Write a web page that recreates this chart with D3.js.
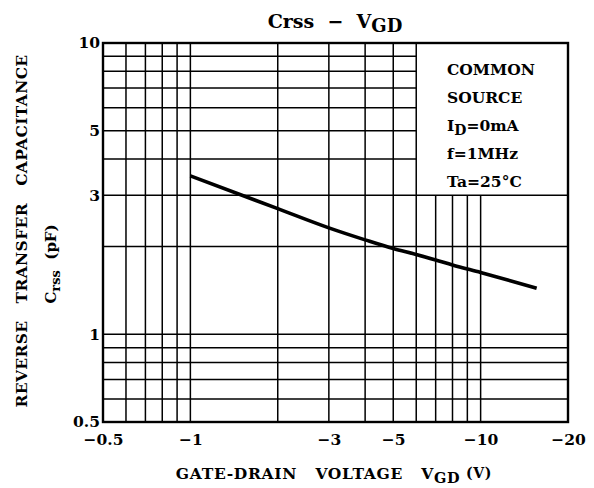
<!DOCTYPE html>
<html>
<head>
<meta charset="utf-8">
<script src="https://cdn.jsdelivr.net/npm/d3@7"></script>
<style>
  body { margin: 0; background: #fff; }
  svg { display: block; }
  text { font-family: "DejaVu Serif", serif; font-weight: bold; fill: #000; white-space: pre; }
</style>
</head>
<body>
<div id="chart"></div>
<script>
'use strict';

// Crss vs VGD
var vgd = [-1, -2, -3, -4, -5, -6, -7, -8, -10, -15.6];
var crss = [3.5, 2.7, 2.32, 2.11, 1.97, 1.88, 1.8, 1.73, 1.63, 1.44];

var xTicks = [-0.5, -1, -3, -5, -10, -20];
var yTicks = [0.5, 1, 3, 5, 10];
var xGrid = [-0.6, -0.7, -0.8, -0.9, -1, -2, -3, -4, -5, -6, -7, -8, -9, -10];
var yGrid = [0.6, 0.7, 0.8, 0.9, 1, 2, 3, 4, 5, 6, 7, 8, 9];
var legendLines = ['COMMON', 'SOURCE', 'I|D|=0mA', 'f=1MHz', 'Ta=25°C'];

var W = 594, H = 488;
var plotL = 103, plotR = 568, plotT = 43, plotB = 422;

var svg = d3.select('#chart').append('svg')
	.attr('width', W)
	.attr('height', H);

var x = d3.scaleLog().domain([0.5, 20]).range([plotL, plotR]);
var y = d3.scaleLog().domain([0.5, 10]).range([plotB, plotT]);
function fx(v) { return x(Math.abs(v)); }

// legend box corner: -6 V / 3 pF
var boxX = fx(-6), boxY = y(3);

// grid, lines hidden under the legend box are shortened
var grid = svg.append('g').attr('stroke', '#000').attr('stroke-width', 1.5);
grid.selectAll('line.v').data(xGrid).enter().append('line')
	.attr('class', 'v')
	.attr('x1', fx).attr('x2', fx)
	.attr('y1', function(d) { return fx(d) > boxX + 1 ? boxY : plotT; })
	.attr('y2', plotB);
grid.selectAll('line.h').data(yGrid).enter().append('line')
	.attr('class', 'h')
	.attr('y1', y).attr('y2', y)
	.attr('x1', plotL)
	.attr('x2', function(d) { return y(d) < boxY - 1 ? boxX : plotR; });

// frame
svg.append('rect')
	.attr('x', plotL).attr('y', plotT)
	.attr('width', plotR - plotL).attr('height', plotB - plotT)
	.attr('fill', 'none').attr('stroke', '#000').attr('stroke-width', 2.4);

// curve
var line = d3.line()
	.x(function(d) { return fx(d[0]); })
	.y(function(d) { return y(d[1]); })
	.curve(d3.curveMonotoneX);
svg.append('path')
	.datum(d3.zip(vgd, crss))
	.attr('d', line)
	.attr('fill', 'none').attr('stroke', '#000').attr('stroke-width', 3.6);

// axes (labels only, grid drawn above)
var xAxis = d3.axisBottom(x)
	.tickValues(xTicks.map(Math.abs))
	.tickSize(0).tickPadding(0)
	.tickFormat(function(d) { return '\u2212' + d; });
var gx = svg.append('g').attr('transform', 'translate(0,' + (plotB + 12) + ')').call(xAxis);
gx.select('.domain').remove();
gx.selectAll('text').attr('font-size', 15.5).attr('fill', '#000');
gx.attr('font-family', null).attr('font-size', null);

var yAxis = d3.axisLeft(y)
	.tickValues(yTicks)
	.tickSize(0).tickPadding(0)
	.tickFormat(function(d) { return String(d); });
var gy = svg.append('g').attr('transform', 'translate(' + (plotL - 3) + ',0)').call(yAxis);
gy.select('.domain').remove();
gy.selectAll('text').attr('font-size', 15.5).attr('fill', '#000');
gy.attr('font-family', null).attr('font-size', null);

// legend text
var lg = svg.append('g').attr('transform', 'translate(447,0)');
legendLines.forEach(function(s, i) {
	var t = lg.append('text').attr('y', 75 + i * 28).attr('font-size', 15.5);
	var parts = s.split('|');
	t.append('tspan').text(parts[0]);
	if (parts.length > 1) {
		t.append('tspan').attr('dy', 4).attr('font-size', 14).text(parts[1]);
		t.append('tspan').attr('dy', -4).text(parts[2]);
	}
});

// title
var title = svg.append('text').attr('x', 335).attr('y', 28)
	.attr('text-anchor', 'middle').attr('font-size', 19);
title.append('tspan').text('Crss  \u2212  V');
title.append('tspan').attr('dy', 4).attr('font-size', 18).text('GD');

// x title
var xt = svg.append('text').attr('x', 334).attr('y', 479)
	.attr('text-anchor', 'middle').attr('font-size', 15.5)
	.attr('letter-spacing', 0.7);
xt.append('tspan').text('GATE-DRAIN   VOLTAGE   V');
xt.append('tspan').attr('dy', 4).attr('font-size', 14.5).text('GD');
xt.append('tspan').attr('dy', -5).attr('font-size', 14).text(' (V)');

// y titles
svg.append('text')
	.attr('transform', 'translate(27,231) rotate(-90)')
	.attr('text-anchor', 'middle').attr('font-size', 15.5)
	.attr('letter-spacing', 0.35)
	.text('REVERSE   TRANSFER   CAPACITANCE');
var yt = svg.append('text')
	.attr('transform', 'translate(56,264) rotate(-90)')
	.attr('text-anchor', 'middle').attr('font-size', 15);
yt.append('tspan').text('C');
yt.append('tspan').attr('dy', 4).attr('font-size', 13).text('rss');
yt.append('tspan').attr('dy', -4).text('  (pF)');
</script>
</body>
</html>
